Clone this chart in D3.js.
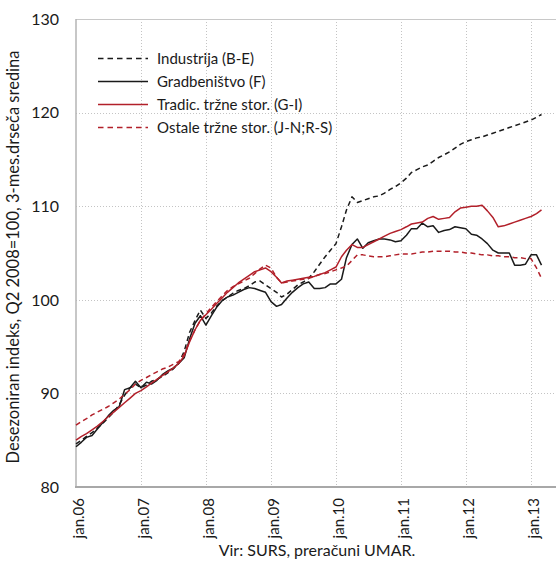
<!DOCTYPE html>
<html>
<head>
<meta charset="utf-8">
<script src="https://cdn.jsdelivr.net/npm/d3@7"></script>
<style>
  body { margin: 0; background: #fff; }
  text { font-family: Lato, "Open Sans", sans-serif; fill: #1a1a1a; }
</style>
</head>
<body>
<svg width="556" height="564"></svg>
<script>
// monthly, jan.06 - mar.13
var months = d3.timeMonth.range(new Date(2006, 0, 1), new Date(2013, 3, 1));

var industrija = [84.6, 85.0, 85.4, 85.8, 86.3, 86.8, 87.4, 88.0, 88.8, 89.8, 90.6, 91.0,
  90.6, 90.9, 91.3, 91.5, 91.8, 92.2, 92.6, 93.2, 94.5, 96.5, 97.8, 98.9,
  98.0, 98.6, 99.3, 99.9, 100.3, 100.7, 101.0, 101.2, 101.5, 101.9, 102.0, 101.6,
  101.2, 100.8, 100.3, 100.6, 101.1, 101.6, 101.9, 102.3, 103.0, 103.8, 104.6, 105.3,
  106.0, 107.8, 109.6, 111.0, 110.4, 110.6, 110.8, 111.0, 111.1, 111.4, 111.8, 112.1,
  112.5, 113.0, 113.6, 113.9, 114.2, 114.4, 114.8, 115.2, 115.5, 115.8, 116.2, 116.6,
  116.9, 117.1, 117.3, 117.4, 117.6, 117.8, 118.0, 118.2, 118.4, 118.6, 118.8, 119.0,
  119.2, 119.5, 119.8];

var gradbenistvo = [84.3, 84.8, 85.3, 85.5, 86.2, 86.9, 87.6, 88.2, 88.6, 90.4, 90.6, 91.3,
  90.6, 91.2, 91.0, 91.4, 92.0, 92.4, 92.7, 93.2, 93.8, 95.8, 97.5, 98.3,
  97.3, 98.3, 99.2, 99.9, 100.3, 100.5, 100.8, 101.1, 101.3, 101.2, 101.0, 100.8,
  99.8, 99.3, 99.5, 100.2, 100.8, 101.3, 101.7, 101.9, 101.2, 101.2, 101.3, 101.7,
  101.7, 102.2, 104.5, 105.9, 106.5, 105.5, 106.1, 106.3, 106.5, 106.5, 106.4, 106.2,
  106.3, 106.9, 107.6, 107.6, 108.2, 107.8, 107.9, 107.2, 107.4, 107.5, 107.8, 107.7,
  107.6, 107.0, 106.9, 106.5, 106.0, 105.3, 105.0, 105.0, 105.0, 103.7, 103.7, 103.8,
  104.8, 104.8, 103.7];

var tradicionalne = [85.0, 85.4, 85.7, 86.1, 86.5, 87.0, 87.5, 88.0, 88.5, 89.0, 89.5, 90.0,
  90.3, 90.7, 91.1, 91.5, 91.9, 92.3, 92.7, 93.2, 94.0, 95.5, 96.8, 97.8,
  98.4, 99.0, 99.6, 100.2, 100.8, 101.3, 101.8, 102.2, 102.6, 103.0, 103.2, 103.4,
  103.0, 102.4, 101.8, 102.0, 102.1, 102.2, 102.3, 102.4, 102.5, 102.7, 102.9, 103.2,
  103.5, 104.6, 105.3, 105.9, 105.6, 105.6, 105.9, 106.2, 106.5, 106.8, 107.1, 107.3,
  107.5, 107.8, 108.1, 108.2, 108.3, 108.7, 108.9, 108.6, 108.7, 108.8, 109.4, 109.8,
  109.9, 110.0, 110.0, 110.1, 109.5, 108.8, 107.8, 107.9, 108.1, 108.3, 108.5, 108.7,
  108.9, 109.2, 109.6];

var ostale = [86.6, 87.0, 87.3, 87.7, 88.0, 88.3, 88.6, 89.0, 89.4, 89.9, 90.4, 91.0,
  91.4, 91.7, 92.0, 92.3, 92.6, 92.8, 93.1, 93.4, 94.2, 95.6, 96.8, 97.8,
  98.5, 99.2, 99.8, 100.4, 101.0, 101.4, 101.7, 102.0, 102.3, 102.8, 103.3, 103.7,
  103.4, 102.4, 101.8, 101.9, 102.0, 102.1, 102.2, 102.3, 102.5, 102.7, 102.8, 103.0,
  103.2, 103.4, 103.6, 104.2, 104.8, 104.8, 104.7, 104.6, 104.6, 104.6, 104.7, 104.8,
  104.9, 104.9, 104.9, 105.0, 105.1, 105.1, 105.2, 105.2, 105.2, 105.2, 105.1, 105.1,
  105.0, 105.0, 104.9, 104.8, 104.8, 104.7, 104.7, 104.6, 104.6, 104.5, 104.5, 104.4,
  104.4, 103.4, 102.3];

var series = [
  { name: "Industrija (B-E)", values: industrija, color: "#1a1a1a", dash: "5,3.5" },
  { name: "Gradbeništvo (F)", values: gradbenistvo, color: "#1a1a1a", dash: null },
  { name: "Tradic. tržne stor. (G-I)", values: tradicionalne, color: "#b2202a", dash: null },
  { name: "Ostale tržne stor. (J-N;R-S)", values: ostale, color: "#b2202a", dash: "5,3.5" }
];

var yTicks = [80, 90, 100, 110, 120, 130];
var xTickDates = d3.timeYear.range(new Date(2006, 0, 1), new Date(2014, 0, 1));
var xTickLabels = ["jan.06", "jan.07", "jan.08", "jan.09", "jan.10", "jan.11", "jan.12", "jan.13"];

var svg = d3.select("svg"),
    pL = 76, pR = 556, pT = 19, pB = 487;

var x = d3.scaleTime()
    .domain([new Date(2006, 0, 1), new Date(2013, 0, 1)])
    .range([pL, 531]);

var y = d3.scaleLinear().domain([80, 130]).range([pB, pT]);

// grid
svg.append("g").selectAll("line")
  .data(xTickDates.slice(1))
  .enter().append("line")
    .attr("x1", function(d) { return Math.round(x(d)) + 0.5; })
    .attr("x2", function(d) { return Math.round(x(d)) + 0.5; })
    .attr("y1", pT).attr("y2", pB)
    .attr("stroke", "#c4c4c4").attr("stroke-dasharray", "1,2");

svg.append("g").selectAll("line")
  .data([90, 100, 110, 120])
  .enter().append("line")
    .attr("x1", pL).attr("x2", pR)
    .attr("y1", function(d) { return Math.round(y(d)) + 0.5; })
    .attr("y2", function(d) { return Math.round(y(d)) + 0.5; })
    .attr("stroke", "#c4c4c4").attr("stroke-dasharray", "1,2");

// frame
svg.append("line").attr("x1", pL).attr("x2", pR).attr("y1", pT + 0.5).attr("y2", pT + 0.5)
  .attr("stroke", "#c8c8c8");
svg.append("line").attr("x1", pL).attr("x2", pL).attr("y1", pT).attr("y2", pB)
  .attr("stroke", "#b4b4b4").attr("stroke-width", 1.5);
svg.append("line").attr("x1", pL - 1).attr("x2", pR).attr("y1", pB).attr("y2", pB)
  .attr("stroke", "#a8a8a8").attr("stroke-width", 2);

// lines
var line = d3.line()
    .x(function(d, i) { return x(months[i]); })
    .y(function(d) { return y(d); });

svg.append("g").selectAll("path")
  .data(series)
  .enter().append("path")
    .attr("d", function(s) { return line(s.values); })
    .attr("fill", "none")
    .attr("stroke", function(s) { return s.color; })
    .attr("stroke-width", 1.5)
    .attr("stroke-linejoin", "round")
    .attr("stroke-dasharray", function(s) { return s.dash; });

// y tick labels
svg.append("g").selectAll("text")
  .data(yTicks)
  .enter().append("text")
    .attr("x", 59)
    .attr("y", function(d) { return y(d); })
    .attr("dy", "0.36em")
    .attr("text-anchor", "end")
    .style("font-size", "16px")
    .text(function(d) { return d; });

// x tick labels
svg.append("g").selectAll("text")
  .data(xTickDates)
  .enter().append("text")
    .attr("transform", function(d) { return "translate(" + (x(d) + 8) + ",498) rotate(-90)"; })
    .attr("text-anchor", "end")
    .style("font-size", "15px")
    .text(function(d, i) { return xTickLabels[i]; });

// axis title
svg.append("text")
  .attr("transform", "translate(19,257) rotate(-90)")
  .attr("text-anchor", "middle")
  .style("font-size", "16.5px")
  .text("Desezoniran indeks, Q2 2008=100, 3-mes.drseča sredina");

// source
svg.append("text")
  .attr("x", 317).attr("y", 556)
  .attr("text-anchor", "middle")
  .style("font-size", "16px")
  .text("Vir: SURS, preračuni UMAR.");

// legend
var legend = svg.append("g").selectAll("g")
  .data(series)
  .enter().append("g")
    .attr("transform", function(d, i) { return "translate(0," + (58.5 + i * 23) + ")"; });

legend.append("line")
  .attr("x1", 98).attr("x2", 148)
  .attr("stroke", function(d) { return d.color; })
  .attr("stroke-width", 1.5)
  .attr("stroke-dasharray", function(d) { return d.dash ? "5.5,4" : null; });

legend.append("text")
  .attr("x", 157).attr("dy", "0.35em")
  .style("font-size", "15px")
  .text(function(d) { return d.name; });
</script>
</body>
</html>
